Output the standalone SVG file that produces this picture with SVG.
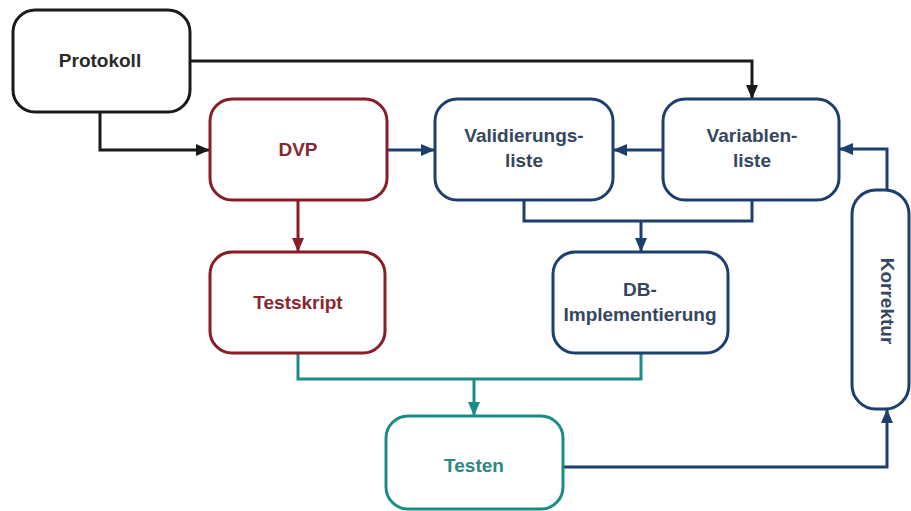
<svg xmlns="http://www.w3.org/2000/svg" width="911" height="511" viewBox="0 0 911 511">
<style>
.box{fill:#fff;stroke-width:3}
.k{stroke:#1a1a1a}.r{stroke:#8a1c26}.b{stroke:#1d3f6d}.t{stroke:#1b8c85}
.lbl{font-family:"Liberation Sans",Arial,sans-serif;font-weight:bold;font-size:19px;text-anchor:middle}
.tk{fill:#2a2a2a}.tr{fill:#8a2630}.tb{fill:#344660}.tt{fill:#2a8a80}
.c{fill:none;stroke-width:3}
</style>
<defs>
<marker id="ak" markerWidth="14" markerHeight="12" refX="13" refY="6" orient="auto" markerUnits="userSpaceOnUse"><path d="M0,0 L14,6 L0,12 Z" fill="#1a1a1a"/></marker>
<marker id="ar" markerWidth="14" markerHeight="12" refX="13" refY="6" orient="auto" markerUnits="userSpaceOnUse"><path d="M0,0 L14,6 L0,12 Z" fill="#8a1c26"/></marker>
<marker id="ab" markerWidth="14" markerHeight="12" refX="13" refY="6" orient="auto" markerUnits="userSpaceOnUse"><path d="M0,0 L14,6 L0,12 Z" fill="#1d3f6d"/></marker>
<marker id="at" markerWidth="14" markerHeight="12" refX="13" refY="6" orient="auto" markerUnits="userSpaceOnUse"><path d="M0,0 L14,6 L0,12 Z" fill="#1b8c85"/></marker>
</defs>
<rect width="911" height="511" fill="#fff"/>
<g id="connectors">
<path class="c k" d="M100,112 V150 H209" marker-end="url(#ak)"/>
<path class="c k" d="M190,61 H752 V98" marker-end="url(#ak)"/>
<path class="c b" d="M387,150 H434" marker-end="url(#ab)"/>
<path class="c b" d="M663,150 H614" marker-end="url(#ab)"/>
<path class="c b" d="M887,190 V149 H840" marker-end="url(#ab)"/>
<path class="c b" d="M524,200 V221 H752 V200"/>
<path class="c b" d="M641,221 V251" marker-end="url(#ab)"/>
<path class="c r" d="M298,200 V251" marker-end="url(#ar)"/>
<path class="c t" d="M298,353 V379 H641 V353"/>
<path class="c t" d="M474,379 V415" marker-end="url(#at)"/>
<path class="c b" d="M563,467 H887 V410" marker-end="url(#ab)"/>
</g>
<g id="protokoll"><rect class="box k" x="13" y="10" width="177" height="102" rx="22"/><text class="lbl tk" x="100" y="67">Protokoll</text></g>
<g id="dvp"><rect class="box r" x="210" y="99" width="177" height="101" rx="22"/><text class="lbl tr" x="298" y="156">DVP</text></g>
<g id="validierungsliste"><rect class="box b" x="435" y="99" width="178" height="101" rx="22"/><text class="lbl tb" x="524" y="142">Validierungs-</text><text class="lbl tb" x="524" y="167">liste</text></g>
<g id="variablenliste"><rect class="box b" x="663" y="99" width="176" height="101" rx="22"/><text class="lbl tb" x="752" y="142">Variablen-</text><text class="lbl tb" x="752" y="167">liste</text></g>
<g id="testskript"><rect class="box r" x="210" y="252" width="175" height="101" rx="22"/><text class="lbl tr" x="298" y="309">Testskript</text></g>
<g id="db-implementierung"><rect class="box b" x="553" y="252" width="175" height="101" rx="22"/><text class="lbl tb" x="640" y="296">DB-</text><text class="lbl tb" x="640" y="321">Implementierung</text></g>
<g id="testen"><rect class="box t" x="386" y="416" width="177" height="93" rx="22"/><text class="lbl tt" x="474" y="472">Testen</text></g>
<g id="korrektur"><rect class="box b" x="852" y="190" width="57" height="219" rx="24"/><text class="lbl tb" x="881" y="301" transform="rotate(90 881 301)">Korrektur</text></g>
</svg>
